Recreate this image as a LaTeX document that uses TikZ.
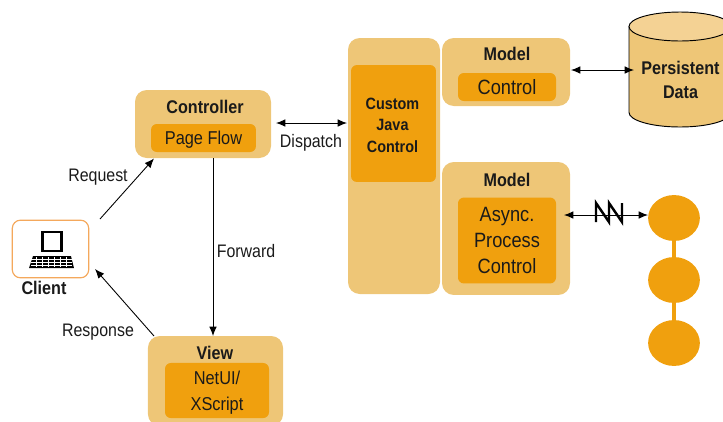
\documentclass[tikz,border=0pt]{standalone}
\usepackage{fontspec}
\setmainfont[FakeStretch=0.88]{Liberation Sans}
\usetikzlibrary{shapes.geometric,arrows.meta}
\definecolor{paleorange}{HTML}{EEC677}
\definecolor{deeporange}{HTML}{F0A00E}
\definecolor{toporange}{HTML}{F4D294}
\definecolor{clientline}{HTML}{F4A85C}
\definecolor{inktext}{HTML}{1A1A1A}
\tikzset{
  outerbox/.style={fill=paleorange, rounded corners=10pt, inner sep=0},
  innerbox/.style={fill=deeporange, rounded corners=5pt, inner sep=0, align=center, text=inktext},
  boxtitle/.style={font=\fontsize{15.6}{18}\selectfont\bfseries, text=inktext},
  boxbody/.style={font=\fontsize{15.8}{22}\selectfont, text=inktext, align=center},
  bigbody/.style={font=\fontsize{17.6}{22.5}\selectfont},
  edgetext/.style={font=\fontsize{15.4}{18}\selectfont, text=inktext},
  link/.style={black, line width=0.75pt, >={Latex[length=8pt,width=6.5pt]}},
  blob/.style={ellipse, fill=deeporange, minimum width=44pt, minimum height=39pt, inner sep=0},
}
\begin{document}
\begin{tikzpicture}[x=0.85pt,y=-0.85pt]
	\useasboundingbox (0,0) rectangle (723,421);

	% client
	\node[draw=clientline, line width=1pt, rounded corners=7pt, minimum width=65pt, minimum height=49pt, inner sep=0] (Client) at (50.5,249) {};
	\node[boxtitle] (ClientText) at (44,288) {Client};
	\draw[black, line width=2pt] (42.5,232) rectangle (61.5,251);
	\fill[black] (33,256) -- (71,256) -- (74,268) -- (29,268) -- cycle;
	\foreach \y in {259,262,265}
		\draw[white, line width=0.35pt] (31,\y) -- (72,\y);
	\foreach \x in {36,42,48,54,60,66}
		\draw[white, line width=0.35pt] (\x,257) -- (\x,267);

	% controller
	\node[outerbox, minimum width=115.6pt, minimum height=57.8pt] (Controller) at (203,124) {};
	\node[boxtitle] (ControllerText) at (205,107) {Controller};
	\node[innerbox, minimum width=89.2pt, minimum height=23.8pt] (PageBox) at (203.5,138) {};
	\node[boxbody] (PageFlow) at (203.5,139.5) {Page Flow};

	% view
	\node[outerbox, minimum width=114.8pt, minimum height=76.5pt] (View) at (215.5,381) {};
	\node[boxtitle] (ViewText) at (215,353) {View};
	\node[innerbox, minimum width=88.4pt, minimum height=46.8pt] (NetBox) at (217,390.5) {};
	\node[boxbody] (NetUI) at (217,393) {NetUI/\\XScript};

	% custom control
	\node[outerbox, minimum width=78.2pt, minimum height=217.6pt] (Custom) at (394,166) {};
	\node[innerbox, minimum width=72.2pt, minimum height=99.4pt] (CustomBox) at (393.5,123.5) {};
	\node[font=\fontsize{13.9}{18.2}\selectfont\bfseries, text=inktext, align=center] (CustomControl) at (392.5,125) {Custom\\Java\\Control};

	% upper model
	\node[outerbox, minimum width=108.8pt, minimum height=57.8pt] (ModelA) at (506,72) {};
	\node[boxtitle] (ModelAText) at (507,54) {Model};
	\node[innerbox, bigbody, minimum width=83.3pt, minimum height=23.8pt] (ControlBox) at (507,87) {Control};

	% lower model
	\node[outerbox, minimum width=108.8pt, minimum height=113pt] (ModelB) at (506,228.5) {};
	\node[boxtitle] (ModelBText) at (507,180) {Model};
	\node[innerbox, bigbody, minimum width=83.3pt, minimum height=73pt] (AsyncBox) at (507,240.5) {Async.\\Process\\Control};

	% persistent data
	\draw[black, thick, fill=paleorange] (629,26.5) -- (629,112.5)
		.. controls (629,120.5) and (652,127) .. (680,127)
		.. controls (708,127) and (731,120.5) .. (731,112.5) -- (731,26.5) -- cycle;
	\draw[black, thick, fill=toporange] (629,26.5)
		.. controls (629,18.5) and (652,12) .. (680,12)
		.. controls (708,12) and (731,18.5) .. (731,26.5)
		.. controls (731,34.5) and (708,41) .. (680,41)
		.. controls (652,41) and (629,34.5) .. (629,26.5) -- cycle;
	\node[font=\fontsize{15.6}{20.4}\selectfont\bfseries, text=inktext, align=center] (Data) at (680.5,80) {Persistent\\Data};

	% process chain
	\node[blob] (BlobA) at (674,218) {};
	\node[blob] (BlobB) at (674,280) {};
	\node[blob] (BlobC) at (674,343) {};
	\draw[deeporange, line width=4.2pt] (BlobA) -- (BlobB);
	\draw[deeporange, line width=4.2pt] (BlobB) -- (BlobC);

	% arrows
	\coordinate (ClientOut) at (100,219);
	\coordinate (ClientIn) at (95,269);
	\coordinate (ControllerIn) at (154,158.5);
	\coordinate (ViewOut) at (154,336);
	\coordinate (ForwardEnd) at (213,336);
	\coordinate (DispatchA) at (276,123);
	\coordinate (DispatchB) at (347,123);
	\coordinate (ModelOut) at (571,70);
	\coordinate (DataIn) at (634,70);
	\coordinate (AsyncOut) at (564,215);
	\coordinate (BlobIn) at (648,215);

	\draw[link,->] (ClientOut) -- (ControllerIn);
	\draw[link,->] (ViewOut) -- (ClientIn);
	\draw[link,->] (Controller.south -| ForwardEnd) -- (ForwardEnd);
	\draw[link,<->] (DispatchA) -- (DispatchB);
	\draw[link,<->] (ModelOut) -- (DataIn);
	\draw[link,<->] (AsyncOut) -- (BlobIn);

	\node[edgetext] (Request) at (98,177) {Request};
	\node[edgetext] (Response) at (98,332) {Response};
	\node[edgetext] (Forward) at (246,251) {Forward};
	\node[edgetext] (Dispatch) at (311,143) {Dispatch};

	% break in the line
	\draw[black, line width=2.1pt] (596,222) -- (596,203) -- (609,222) -- (609,203) -- (622,222) -- (622,203);

\end{tikzpicture}
\end{document}
